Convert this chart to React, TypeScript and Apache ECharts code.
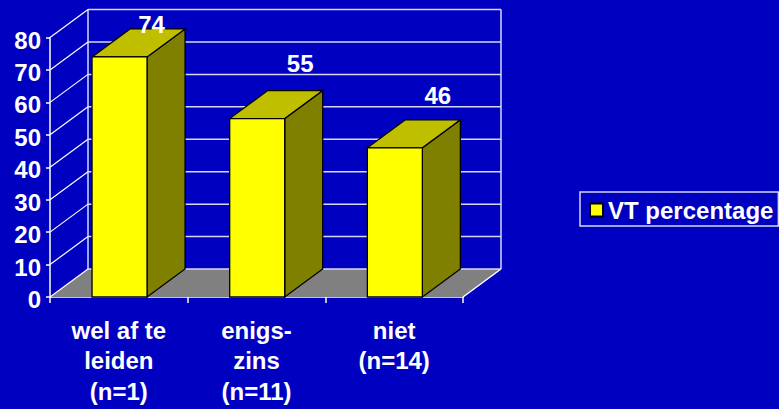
import React, { useEffect, useRef } from "react";
import * as echarts from "echarts";

const categories = ["wel af te\nleiden\n(n=1)", "enigs-\nzins\n(n=11)", "niet\n(n=14)"];
const vtPercentage = [74, 55, 46];
const seriesName = "VT percentage";
const yTicks = [0, 10, 20, 30, 40, 50, 60, 70, 80];

const FONT = '"Liberation Sans", Arial, sans-serif';
const DX = 38;
const DY = -28;
const BAR_W = 55;
const WHITE = "#ffffff";
const GRID = "#d8d8f4";

export default function App() {
  const ref = useRef<HTMLDivElement>(null);
  useEffect(() => {
    document.body.style.margin = "0";
    document.body.style.overflow = "hidden";
    const chart = echarts.init(ref.current!, null, { renderer: "svg" });
    chart.setOption({
      animation: false,
      backgroundColor: "#0000c0",
      textStyle: { fontFamily: FONT },
      grid: { left: 50, right: 316, top: 37.5, bottom: 112, containLabel: false },
      legend: {
        left: 580,
        top: 192,
        orient: "horizontal",
        padding: [6, 5, 4, 9],
        borderColor: GRID,
        borderWidth: 1.5,
        borderRadius: 0,
        itemWidth: 13,
        itemHeight: 13,
        itemGap: 0,
        data: [{ name: seriesName, icon: "rect" }],
        textStyle: { color: WHITE, fontSize: 24, fontWeight: "bold", fontFamily: FONT },
      },
      xAxis: {
        type: "category",
        data: categories,
        axisLine: { show: true, lineStyle: { color: WHITE, width: 1.5 } },
        axisTick: { show: true, length: 6, alignWithLabel: false, lineStyle: { color: WHITE, width: 1.5 } },
        axisLabel: {
          interval: 0,
          margin: 18,
          color: WHITE,
          fontSize: 24,
          fontWeight: "bold",
          fontFamily: FONT,
          lineHeight: 30.5,
          verticalAlign: "top",
        },
      },
      yAxis: {
        type: "value",
        min: 0,
        max: 80,
        interval: 10,
        axisLine: { show: true, lineStyle: { color: WHITE, width: 1.5 } },
        axisTick: { show: true, length: 4, lineStyle: { color: WHITE, width: 1.5 } },
        splitLine: { show: false },
        axisLabel: {
          margin: 9,
          lineHeight: 5,
          verticalAlign: "top",
          color: WHITE,
          fontSize: 24,
          fontWeight: "bold",
          fontFamily: FONT,
        },
      },
      series: [
        {
          type: "custom",
          silent: true,
          z: 1,
          clip: false,
          legendHoverLink: false,
          data: yTicks.map((v) => [0, v]),
          renderItem: (params: any, api: any) => {
            const cs = params.coordSys;
            const v = api.value(1);
            const y = api.coord([0, v])[1];
            const x0 = cs.x;
            const x1 = cs.x + cs.width;
            const line = { stroke: WHITE, lineWidth: 1.2, fill: "none" };
            const children: any[] = [];
            if (v === 0) {
              children.push({
                type: "polygon",
                shape: { points: [[x0, y], [x1, y], [x1 + DX, y + DY], [x0 + DX, y + DY]] },
                style: { fill: "#808080" },
              });
              children.push({
                type: "line",
                shape: { x1: x0 + DX, y1: cs.y + DY, x2: x0 + DX, y2: y + DY },
                style: { stroke: GRID, lineWidth: 1.5 },
              });
              children.push({
                type: "line",
                shape: { x1: x1 + DX, y1: cs.y + DY, x2: x1 + DX, y2: y + DY },
                style: { stroke: GRID, lineWidth: 1.5 },
              });
              children.push({
                type: "line",
                shape: { x1: x1, y1: y, x2: x1 + DX, y2: y + DY },
                style: { stroke: WHITE, lineWidth: 1.5 },
              });
            }
            children.push({
              type: "line",
              shape: { x1: x0, y1: y, x2: x0 + DX, y2: y + DY },
              style: line,
            });
            children.push({
              type: "line",
              shape: { x1: x0 + DX, y1: y + DY, x2: x1 + DX, y2: y + DY },
              style: { stroke: GRID, lineWidth: 1.5 },
            });
            return { type: "group", children };
          },
        },
        {
          name: seriesName,
          type: "custom",
          z: 3,
          clip: false,
          itemStyle: { color: "#ffff00", borderColor: "#000000", borderWidth: 1.5 },
          data: vtPercentage.map((v, i) => [i, v]),
          renderItem: (params: any, api: any) => {
            const i = api.value(0);
            const v = api.value(1);
            const [cx, top] = api.coord([i, v]);
            const base = api.coord([i, 0])[1];
            const l = cx - BAR_W / 2 + 0.7;
            const r = l + BAR_W;
            const edge = { stroke: "#000000", lineWidth: 1.3 };
            const labelDx = i === 0 ? 32 : 43;
            const labelDy = i === 0 ? -32 : i === 1 ? -55 : -52;
            return {
              type: "group",
              children: [
                {
                  type: "polygon",
                  shape: { points: [[r, top], [r + DX, top + DY], [r + DX, base + DY], [r, base]] },
                  style: { fill: "#808000", ...edge },
                },
                {
                  type: "polygon",
                  shape: { points: [[l, top], [l + DX, top + DY], [r + DX, top + DY], [r, top]] },
                  style: { fill: "#bfbf00", ...edge },
                },
                {
                  type: "rect",
                  shape: { x: l, y: top, width: BAR_W, height: base - top },
                  style: { fill: "#ffff00", ...edge },
                },
                {
                  type: "text",
                  x: l + BAR_W / 2 + labelDx,
                  y: top + labelDy,
                  style: {
                    text: String(v),
                    fill: WHITE,
                    fontSize: 24,
                    fontWeight: "bold",
                    fontFamily: FONT,
                    align: "center",
                    verticalAlign: "middle",
                  },
                },
              ],
            };
          },
        },
      ],
    });
    return () => chart.dispose();
  }, []);
  return <div ref={ref} style={{ width: 779, height: 409 }} />;
}
